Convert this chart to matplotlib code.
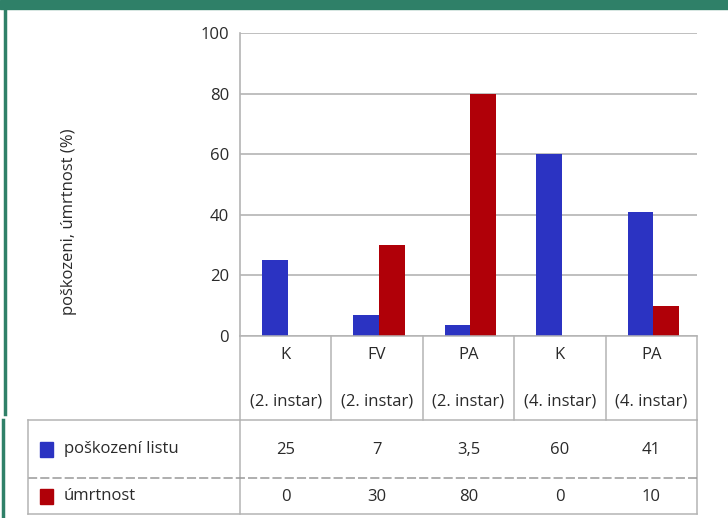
import numpy as np
import matplotlib
matplotlib.use("Agg")
import matplotlib.pyplot as plt
from matplotlib.transforms import blended_transform_factory
from matplotlib.patches import Rectangle

plt.rcParams['font.family'] = ['Open Sans', 'DejaVu Sans']

# data
kategorie = ["K", "FV", "PA", "K", "PA"]
instar = ["(2. instar)", "(2. instar)", "(2. instar)", "(4. instar)", "(4. instar)"]
poskozeni = [25, 7, 3.5, 60, 41]
umrtnost = [0, 30, 80, 0, 10]
popisky_hodnot = [["25", "7", "3,5", "60", "41"], ["0", "30", "80", "0", "10"]]
serie = ["poškození listu", "úmrtnost"]
yticks = [0, 20, 40, 60, 80, 100]

modra = "#2b33c2"
cervena = "#b00008"
zelena = "#2f8068"
seda = "#b4b4b4"
text_barva = "#2a2a2a"

W, H = 728, 518
fig = plt.figure(figsize=(W / 100, H / 100), dpi=100)

def fx(px):
    return px / W

def fy(py):
    return 1 - py / H

# main axes
ax = fig.add_axes([fx(240), fy(336), fx(697) - fx(240), fy(33) - fy(336)])
x = np.arange(len(kategorie))
w = 0.28
ax.bar(x - w / 2 + 0.02, poskozeni, w, color=modra, zorder=3)
ax.bar(x + w / 2 + 0.02, umrtnost, w, color=cervena, zorder=3)
ax.set_xlim(-0.5, len(kategorie) - 0.5)
ax.set_ylim(0, 100)
ax.set_yticks(yticks)
ax.set_yticklabels([str(t) for t in yticks], fontsize=12, color=text_barva)
ax.set_xticks([])
ax.grid(axis="y", color=seda, linewidth=1.2, zorder=0)
for s in ["top", "right", "bottom"]:
    ax.spines[s].set_visible(False)
ax.spines["left"].set_color(seda)
ax.spines["left"].set_linewidth(1.2)
ax.tick_params(axis="y", length=0, pad=8)
ax.set_ylabel("poškozeni, úmrtnost (%)", fontsize=12, color=text_barva)
ax.yaxis.set_label_coords((77 - 240) / 457, (336 - 222) / 303)

# table under the axes (x in data coordinates, y in figure coordinates)
tr = blended_transform_factory(ax.transData, fig.transFigure)
y_top, y_hdr, y_mid, y_bot = fy(336), fy(420), fy(478), fy(514)
hranice = np.arange(len(kategorie) + 1) - 0.5
for b in hranice:
    fig.add_artist(plt.Line2D([b, b], [y_top, y_hdr], transform=tr, color=seda, lw=1.1))
fig.add_artist(plt.Line2D([hranice[-1], hranice[-1]], [y_hdr, y_bot], transform=tr, color=seda, lw=1.1))
fig.add_artist(plt.Line2D([hranice[0], hranice[0]], [y_hdr, y_bot], transform=tr, color=seda, lw=1.1))
fig.add_artist(plt.Line2D([-0.5, 4.5], [y_top, y_top], transform=tr, color=seda, lw=1.1))

for i in range(len(kategorie)):
    fig.text(x[i], fy(355), kategorie[i], transform=tr, ha="center", va="center", fontsize=12, color=text_barva)
    fig.text(x[i], fy(401), instar[i], transform=tr, ha="center", va="center", fontsize=12, color=text_barva)
    fig.text(x[i], fy(450), popisky_hodnot[0][i], transform=tr, ha="center", va="center", fontsize=12, color=text_barva)
    fig.text(x[i], fy(497), popisky_hodnot[1][i], transform=tr, ha="center", va="center", fontsize=12, color=text_barva)

# left legend box of the table
fig.add_artist(plt.Line2D([fx(28), fx(697)], [y_hdr, y_hdr], color=seda, lw=1.1))
fig.add_artist(plt.Line2D([fx(28), fx(697)], [y_mid, y_mid], color="#999999", lw=1.1, ls=(0, (6, 2))))
fig.add_artist(plt.Line2D([fx(28), fx(697)], [y_bot, y_bot], color=seda, lw=1.1))
fig.add_artist(plt.Line2D([fx(28), fx(28)], [y_hdr, y_bot], color=seda, lw=1.1))
for nazev, barva, yc in [(serie[0], modra, 449), (serie[1], cervena, 496)]:
    fig.add_artist(Rectangle((fx(40), fy(yc + 8)), fx(13), fy(yc - 7) - fy(yc + 8), color=barva))
    fig.text(fx(64), fy(yc), nazev, ha="left", va="center", fontsize=12, color=text_barva)

# green frame of the page
fig.add_artist(Rectangle((0, fy(9)), 1, fy(0) - fy(9), color=zelena))
fig.add_artist(plt.Line2D([fx(5), fx(5)], [fy(9), fy(414)], color=zelena, lw=2.5))
fig.add_artist(plt.Line2D([fx(3), fx(3)], [fy(420), fy(518)], color=zelena, lw=2.5))

fig.savefig("out.png", dpi=100)
